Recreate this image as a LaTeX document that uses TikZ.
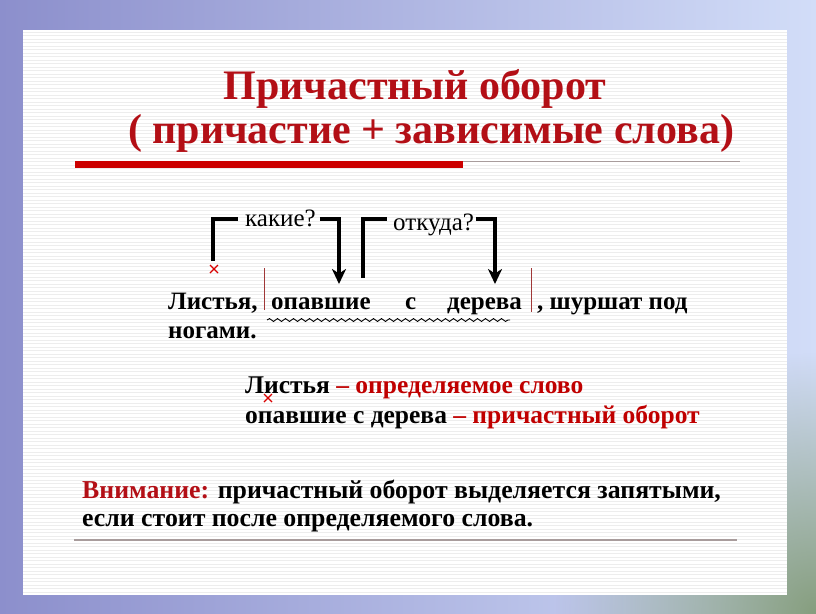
\documentclass[tikz,border=0pt]{standalone}
\usepackage{fontspec}
\setmainfont{Liberation Serif}[BoldFont={Liberation Serif Bold}]
\usetikzlibrary{arrows.meta,decorations.pathmorphing,fadings}
\definecolor{bgl}{HTML}{8C8FCC}
\definecolor{bgr}{HTML}{D2DDF8}
\definecolor{bgg}{HTML}{869E7E}
\definecolor{titred}{HTML}{B30F16}
\definecolor{txtred}{HTML}{C00000}
\definecolor{barred}{HTML}{CC0000}
\definecolor{stripe}{HTML}{EDEDED}
\definecolor{rule}{HTML}{A89C9C}
\definecolor{sep}{HTML}{A03838}
\tikzfading[name=cornerfade, inner color=transparent!0, outer color=transparent!100]
\tikzset{
  ttl/.style={anchor=base, inner sep=0pt, text=titred, font=\fontsize{42}{42}\selectfont\bfseries},
  sent/.style={anchor=base west, inner sep=0pt, font=\fontsize{25}{25}\selectfont\bfseries},
  quest/.style={anchor=base west, inner sep=0pt, font=\fontsize{25}{25}\selectfont},
  defn/.style={anchor=base west, inner sep=0pt, font=\fontsize{25.5}{25.5}\selectfont\bfseries},
  note/.style={anchor=base west, inner sep=0pt, font=\fontsize{25.8}{25.8}\selectfont\bfseries},
  brk/.style={line width=3.2pt, miter limit=10},
  brkarrow/.style={brk, -{Stealth[length=15pt,width=14pt,inset=4.5pt]}},
  sepbar/.style={draw=sep, line width=1pt},
  crossmark/.style={draw=red!85!black, line width=1.1pt},
}
\begin{document}
\begin{tikzpicture}[x=1pt,y=-1pt]
\useasboundingbox (0,0) rectangle (816,613);
% background
\shade[left color=bgl, right color=bgr] (0,0) rectangle (816,613);
\fill[bgg, path fading=cornerfade] (816,613) circle (260);
% panel
\fill[white] (23,30) rectangle (787,595);
\foreach \yy in {32,35.5,...,594} { \draw[stripe, line width=0.7pt] (23,\yy) -- (787,\yy); }
% title
\node[ttl] (t1) at (415,99) {Причастный оборот};
\node[ttl] (t2) at (431,143) {( причастие + зависимые слова)};
\fill[barred] (75,160.5) rectangle (463,167.5);
\draw[rule, line width=1pt] (463,161.5) -- (740,161.5);
% sentence
\node[sent] (w1) at (168,309) {Листья,};
\node[sent] (w2) at (271,309) {опавшие};
\node[sent] (w3) at (405,309) {с};
\node[sent] (w4) at (447,309) {дерева};
\node[sent] (w5) at (537,309) {, шуршат под};
\node[sent] (w6) at (168,338) {ногами.};
\draw[sepbar] (264,268) -- (264,310);
\draw[sepbar] (531,268) -- (531,312);
\draw[line width=0.9pt, decorate, decoration={snake, amplitude=1.4pt, segment length=8pt}] (267,320) -- (510,320);
% cross marks
\coordinate (x1) at (214,269);
\draw[crossmark] ([shift={(-4,-4)}]x1) -- ([shift={(4,4)}]x1) ([shift={(-4,4)}]x1) -- ([shift={(4,-4)}]x1);
% question brackets
\node[quest] (q1) at (245,226) {какие?};
\node[quest] (q2) at (393,230) {откуда?};
\coordinate (a1) at (213,261);
\coordinate (a2) at (339,284);
\coordinate (b1) at (363,278);
\coordinate (b2) at (495,284);
\draw[brk] (a1) -- (a1 |- 0,219) -- ([xshift=-7]q1.west |- 0,219);
\draw[brkarrow] ([xshift=4]q1.east |- 0,219) -- (a2 |- 0,219) -- (a2);
\draw[brk] (b1) -- (b1 |- 0,219) -- ([xshift=-6]q2.west |- 0,219);
\draw[brkarrow] ([xshift=2]q2.east |- 0,219) -- (b2 |- 0,219) -- (b2);
% definitions
\node[defn] (d1) at (245,393) {Листья {\color{txtred}– определяемое слово}};
\node[defn] (d2) at (245,423) {опавшие с дерева {\color{txtred}– причастный оборот}};
\coordinate (x2) at (268,398);
\draw[crossmark] ([shift={(-4,-4)}]x2) -- ([shift={(4,4)}]x2) ([shift={(-4,4)}]x2) -- ([shift={(4,-4)}]x2);
% note
\node[note] (n1) at (82,498) {{\color{titred}Внимание:} причастный оборот выделяется запятыми,};
\node[note] (n2) at (82,526) {если стоит после определяемого слова.};
\draw[rule, line width=1.2pt] (74,540) -- (737,540);
\end{tikzpicture}
\end{document}
